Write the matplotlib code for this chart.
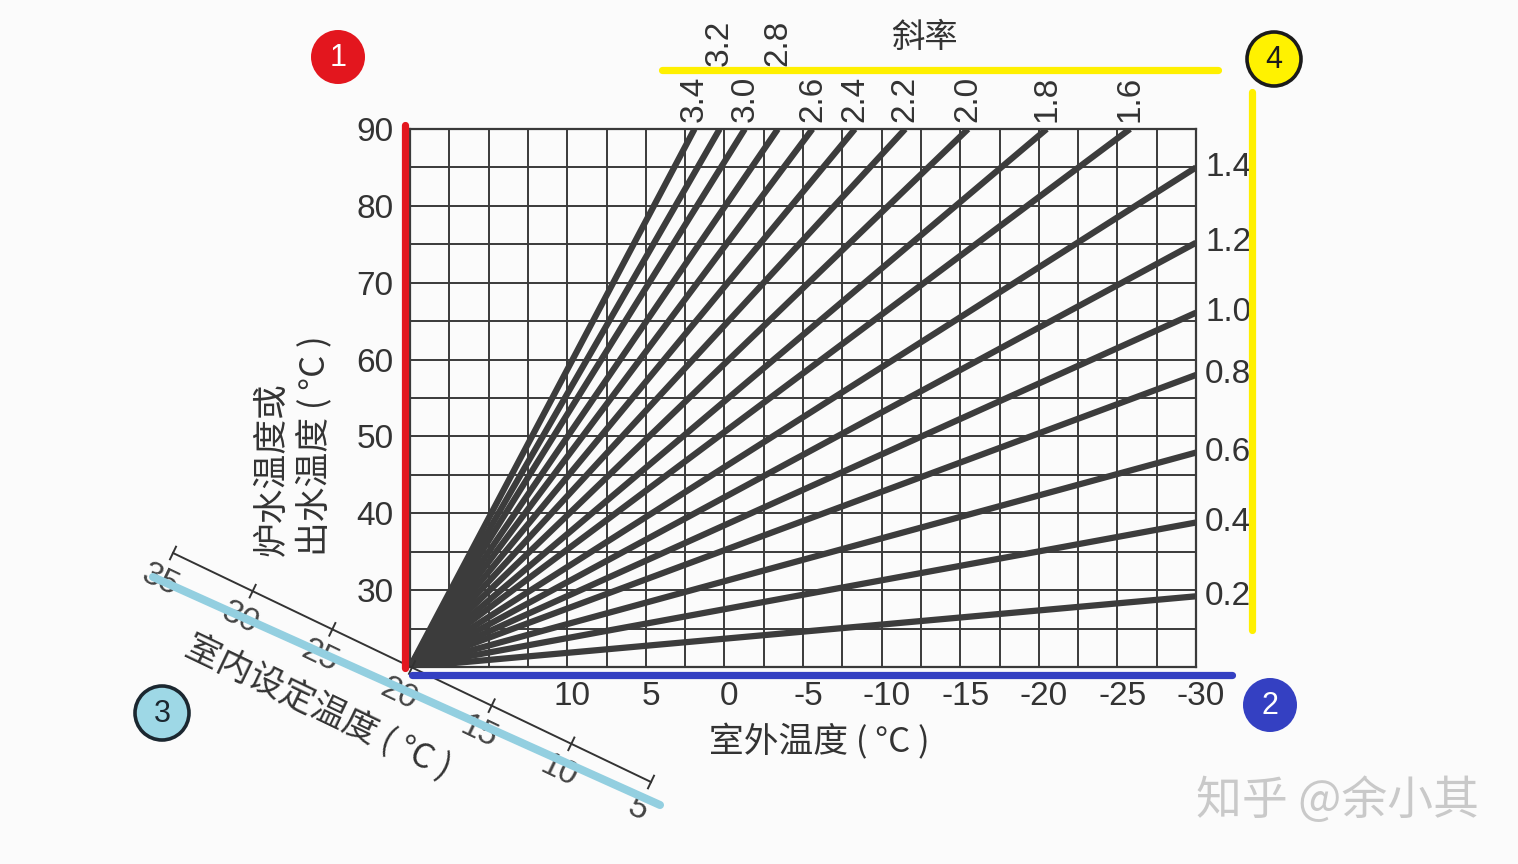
import numpy as np
import matplotlib
matplotlib.use("Agg")
import matplotlib.pyplot as plt
from matplotlib.patches import Circle
import matplotlib.transforms as mtransforms

plt.rcParams['font.family'] = ['Liberation Sans', 'Noto Sans CJK SC', 'DejaVu Sans']
plt.rcParams['axes.unicode_minus'] = False

# ---------------- data ----------------
origin_outdoor = 20.0
origin_water = 20.0
top_slope_labels = ["3.4", "3.2", "3.0", "2.8", "2.6", "2.4", "2.2", "2.0", "1.8", "1.6"]
top_end_outdoor = [1.9, 0.3, -1.3, -3.4, -5.6, -8.3, -11.5, -15.5, -20.5, -25.8]   # where line hits 90°C
right_slope_labels = ["1.4", "1.2", "1.0", "0.8", "0.6", "0.4", "0.2"]
right_end_water = [85.0, 75.2, 66.1, 58.0, 47.9, 38.8, 29.2]                     # value at -30°C
x_ticks = [10, 5, 0, -5, -10, -15, -20, -25, -30]
x_tick_labels = ["10", "5", "0", "-5", "-10", "-15", "-20", "-25", "-30"]
y_ticks = [30, 40, 50, 60, 70, 80, 90]
y_tick_labels = ["30", "40", "50", "60", "70", "80", "90"]
indoor_ticks = [35, 30, 25, 20, 15, 10, 5]
indoor_tick_labels = ["35", "30", "25", "20", "15", "10", "5"]

W, H = 1518, 864
fig = plt.figure(figsize=(W / 100, H / 100), dpi=100)
fig.patch.set_facecolor('#fbfbfb')

ink = '#3a3a3a'
txt = '#333333'
ax = fig.add_axes([410 / W, 1 - 667 / H, 786 / W, 538 / H])
ax.set_xlim(20, -30)
ax.set_ylim(20, 90)
ax.set_facecolor('none')

for gx in np.arange(-30, 20.01, 2.5):
    ax.axvline(gx, color=ink, lw=1.4, zorder=1)
for gy in np.arange(20, 90.01, 5):
    ax.axhline(gy, color=ink, lw=1.4, zorder=1)
for s in ax.spines.values():
    s.set_color(ink)
    s.set_linewidth(1.6)

line_kw = dict(color='#3c3c3c', lw=4.5, solid_capstyle='butt', zorder=3)
for t in top_end_outdoor:
    ax.plot([origin_outdoor, t], [origin_water, 90], **line_kw)
for w in right_end_water:
    ax.plot([origin_outdoor, -30], [origin_water, w], **line_kw)

ax.set_xticks(x_ticks)
ax.set_xticklabels(x_tick_labels)
ax.set_yticks(y_ticks)
ax.set_yticklabels(y_tick_labels)
ax.tick_params(length=0, labelsize=24, labelcolor=txt)
ax.tick_params(axis='y', pad=12)
ax.tick_params(axis='x', pad=10)
shift = mtransforms.ScaledTranslation(5 / 100, 0, fig.dpi_scale_trans)
for lbl in ax.get_xticklabels():
    lbl.set_transform(lbl.get_transform() + shift)

upper_row = {"3.2", "2.8"}
for lab, t in zip(top_slope_labels, top_end_outdoor):
    off = 63 if lab in upper_row else 7
    ax.annotate(lab, xy=(t, 90), xytext=(0, off), textcoords='offset pixels',
                rotation=90, ha='center', va='bottom', fontsize=24, color=txt,
                annotation_clip=False)
for lab, w in zip(right_slope_labels, right_end_water):
    ax.annotate(lab, xy=(-30, w), xytext=(9, 0), textcoords='offset pixels',
                ha='left', va='center', fontsize=24, color=txt, annotation_clip=False)

# ---------------- overlay in pixel coordinates ----------------
ov = fig.add_axes([0, 0, 1, 1])
ov.set_xlim(0, W)
ov.set_ylim(H, 0)
ov.axis('off')
ov.set_zorder(5)

cjk = ['Noto Sans CJK SC', 'DejaVu Sans']
ov.text(925, 38, "斜率", fontsize=24, ha='center', va='center', color=txt, family=cjk,
        weight='medium')
ov.text(272, 556, "炉水温度或", fontsize=25, rotation=90, ha='center', va='bottom',
        color=txt, family=cjk, weight='medium')
ov.text(314, 556, "出水温度 ( °C )", fontsize=25, rotation=90, ha='center', va='bottom',
        color=txt, family=cjk, weight='medium')
ov.text(819, 742, "室外温度 ( °C )", fontsize=25, ha='center', va='center',
        color=txt, family=cjk, weight='medium')

# oblique indoor set-temperature axis
p0 = np.array([173.0, 553.0])
p1 = np.array([651.0, 782.0])
d = (p1 - p0) / np.linalg.norm(p1 - p0)
nrm = np.array([-d[1], d[0]])
ang = -np.degrees(np.arctan2(d[1], d[0]))
ov.plot([p0[0], p1[0]], [p0[1], p1[1]], color=txt, lw=1.4)
for v, lab in zip(indoor_ticks, indoor_tick_labels):
    f = np.interp(v, [5, 35], [1, 0])
    p = p0 + f * (p1 - p0)
    a, b = p - 7 * nrm, p + 7 * nrm
    ov.plot([a[0], b[0]], [a[1], b[1]], color=txt, lw=1.4)
    q = p + 30 * nrm
    ov.text(q[0], q[1], lab, rotation=ang, rotation_mode='anchor', ha='center', va='center',
            fontsize=24, color='#444444', zorder=3)
ov.text(318, 708, "室内设定温度 ( °C )", rotation=ang, rotation_mode='anchor', ha='center',
        va='center', fontsize=25, color=txt, family=cjk, weight='medium')

# highlight strokes (on top of the text they cross)
hl = dict(solid_capstyle='round', zorder=4)
ov.plot([405, 405], [125, 668], color='#e3161e', lw=5.2, **hl)
ov.plot([412, 1232], [675, 675], color='#3440c2', lw=5.2, **hl)
ov.plot([153, 660], [577, 805], color='#93cfe0', lw=5.8, **hl)
ov.plot([662, 1218], [70, 70], color='#fff000', lw=5.2, **hl)
ov.plot([1252, 1252], [92, 630], color='#fff000', lw=5.2, **hl)

# numbered markers
markers = [((338, 57), '#e3161e', None, '1', 'white'),
           ((1270, 705), '#3440c2', None, '2', 'white'),
           ((162, 713), '#9ed8e6', '#1b2730', '3', '#1b2730'),
           ((1274, 59), '#fff200', '#1b1b1b', '4', '#1b1b1b')]
for (cx, cy), fc, ec, num, tc in markers:
    ov.add_patch(Circle((cx, cy), 27, facecolor=fc,
                        edgecolor=ec if ec else 'none', lw=2.6 if ec else 0, zorder=6))
    ov.text(cx, cy + 1, num, ha='center', va='center', fontsize=22, color=tc, zorder=7)

# watermark
ov.text(1338, 801, "知乎 @余小其", ha='center', va='center', fontsize=33,
        color='#c9c9c9', family=cjk)

fig.savefig("out.png", dpi=100, facecolor=fig.get_facecolor())
